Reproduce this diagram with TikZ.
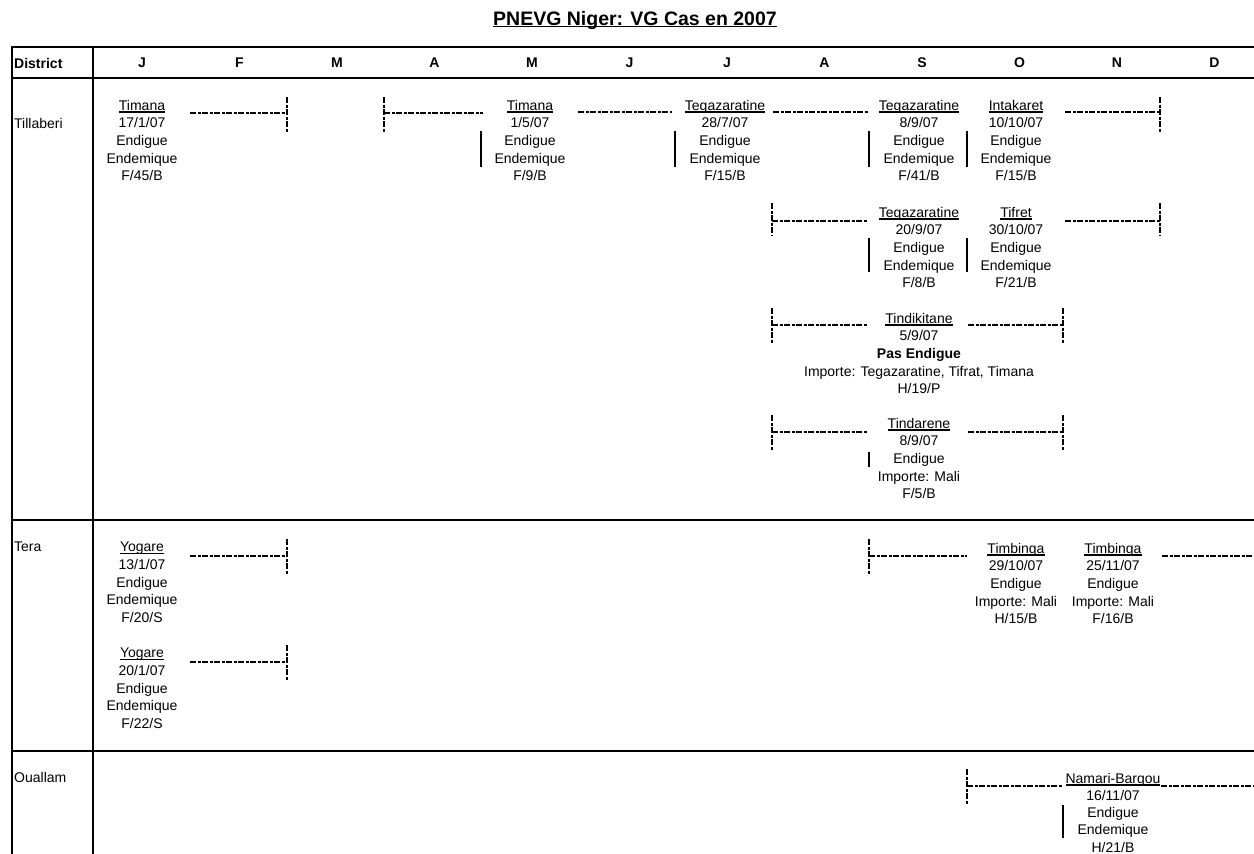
\documentclass[tikz,border=0pt]{standalone}
\usepackage{fontspec}
\setmainfont{Liberation Sans}
\newsavebox\placebox
\newcommand{\place}[1]{\sbox\placebox{#1}%
  \rlap{\rule[-2.2pt]{\wd\placebox}{1.1pt}}\usebox\placebox}
\begin{document}
\begin{tikzpicture}[x=1pt, y=-1pt,
    rule/.style={line width=2.6pt},
    span/.style={line width=1.3pt, dash pattern=on 6pt off 1.5pt on 3pt off 1.5pt},
    bar/.style={line width=2pt},
    case/.style={anchor=north, inner sep=0pt, align=center,
      font=\fontsize{14}{17.6}\selectfont},
    head/.style={inner sep=0pt, font=\fontsize{14}{17}\selectfont\bfseries},
    dist/.style={anchor=west, inner sep=0pt, font=\fontsize{14}{17}\selectfont}]
\useasboundingbox (0,0) rectangle (1254,854);
% Title.
\node[anchor=base, inner sep=0pt, font=\fontsize{19.5}{22}\selectfont\bfseries]
  (title) at (635,25) {\place{PNEVG Niger: VG Cas en 2007}};
% Draw the table rules.
\draw[rule] (12,854) -- (12,47) -- (1254,47);
\draw[rule] (12,78) -- (1254,78);
\draw[rule] (12,520) -- (1254,520);
\draw[rule] (12,751) -- (1254,751);
\draw[rule] (93,47) -- (93,854);
% Header row.
\node[dist, font=\fontsize{14}{17}\selectfont\bfseries] (district) at (14,63) {District};
\foreach \m [count=\i from 0] in {J,F,M,A,M,J,J,A,S,O,N,D}
  \node[head] (month\i) at (142+97.5*\i,63) {\m};
% District names.
\node[dist] (tillaberi) at (14,123) {Tillaberi};
\node[dist] (tera) at (14,547) {Tera};
\node[dist] (ouallam) at (14,777) {Ouallam};
% Tillaberi cases.
\node[case] (timana1) at (142,100) {\place{Timana}\\17/1/07\\Endigue\\Endemique\\F/45/B};
\node[case] (timana2) at (530,100) {\place{Timana}\\1/5/07\\Endigue\\Endemique\\F/9/B};
\node[case] (tegaz1) at (725,100) {\place{Tegazaratine}\\28/7/07\\Endigue\\Endemique\\F/15/B};
\node[case] (tegaz2) at (919,100) {\place{Tegazaratine}\\8/9/07\\Endigue\\Endemique\\F/41/B};
\node[case] (intakaret) at (1016,100) {\place{Intakaret}\\10/10/07\\Endigue\\Endemique\\F/15/B};
\node[case] (tegaz3) at (919,207) {\place{Tegazaratine}\\20/9/07\\Endigue\\Endemique\\F/8/B};
\node[case] (tifret) at (1016,207) {\place{Tifret}\\30/10/07\\Endigue\\Endemique\\F/21/B};
\node[case] (tindikitane) at (919,313) {\place{Tindikitane}\\5/9/07\\\textbf{Pas Endigue}\\
  Importe: Tegazaratine, Tifrat, Timana\\H/19/P};
\node[case] (tindarene) at (919,418) {\place{Tindarene}\\8/9/07\\Endigue\\Importe: Mali\\F/5/B};
% Tera cases.
\node[case] (yogare1) at (142,542) {\place{Yogare}\\13/1/07\\Endigue\\Endemique\\F/20/S};
\node[case] (yogare2) at (142,648) {\place{Yogare}\\20/1/07\\Endigue\\Endemique\\F/22/S};
\node[case] (timbinga1) at (1016,543) {\place{Timbinga}\\29/10/07\\Endigue\\Importe: Mali\\H/15/B};
\node[case] (timbinga2) at (1113,543) {\place{Timbinga}\\25/11/07\\Endigue\\Importe: Mali\\F/16/B};
% Ouallam case.
\node[case, font=\fontsize{14}{17.2}\selectfont] (namari) at (1113,773)
  {\place{Namari-Bargou}\\16/11/07\\Endigue\\Endemique\\H/21/B};
% Dashed follow-up spans with their end ticks.
\draw[span] (190,113) -- (287,113);  \draw[span] (287,97) -- (287,132);
\draw[span] (384,113) -- (483,113);  \draw[span] (384,97) -- (384,132);
\draw[span] (578,112) -- (672,112);
\draw[span] (773,112) -- (868,112);
\draw[span] (1065,112) -- (1160,112); \draw[span] (1160,97) -- (1160,132);
\draw[span] (772,221) -- (868,221);  \draw[span] (772,203) -- (772,235);
\draw[span] (1065,221) -- (1160,221); \draw[span] (1160,203) -- (1160,235);
\draw[span] (772,325) -- (868,325);  \draw[span] (772,308) -- (772,343);
\draw[span] (968,325) -- (1063,325); \draw[span] (1063,308) -- (1063,343);
\draw[span] (772,432) -- (868,432);  \draw[span] (772,415) -- (772,450);
\draw[span] (968,432) -- (1063,432); \draw[span] (1063,415) -- (1063,450);
\draw[span] (190,556) -- (287,556);  \draw[span] (287,539) -- (287,575);
\draw[span] (190,662) -- (287,662);  \draw[span] (287,645) -- (287,680);
\draw[span] (869,556) -- (967,556);  \draw[span] (869,539) -- (869,575);
\draw[span] (1162,556) -- (1254,556);
\draw[span] (967,786) -- (1063,786); \draw[span] (967,769) -- (967,805);
\draw[span] (1161,786) -- (1254,786);
% Solid bars before the case text.
\foreach \x in {481,675,869,967}
  \draw[bar] (\x,131) -- (\x,167);
\foreach \x in {869,967}
  \draw[bar] (\x,238) -- (\x,272);
\draw[bar] (869,452) -- (869,467);
\draw[bar] (1063,805) -- (1063,838);
\end{tikzpicture}
\end{document}
